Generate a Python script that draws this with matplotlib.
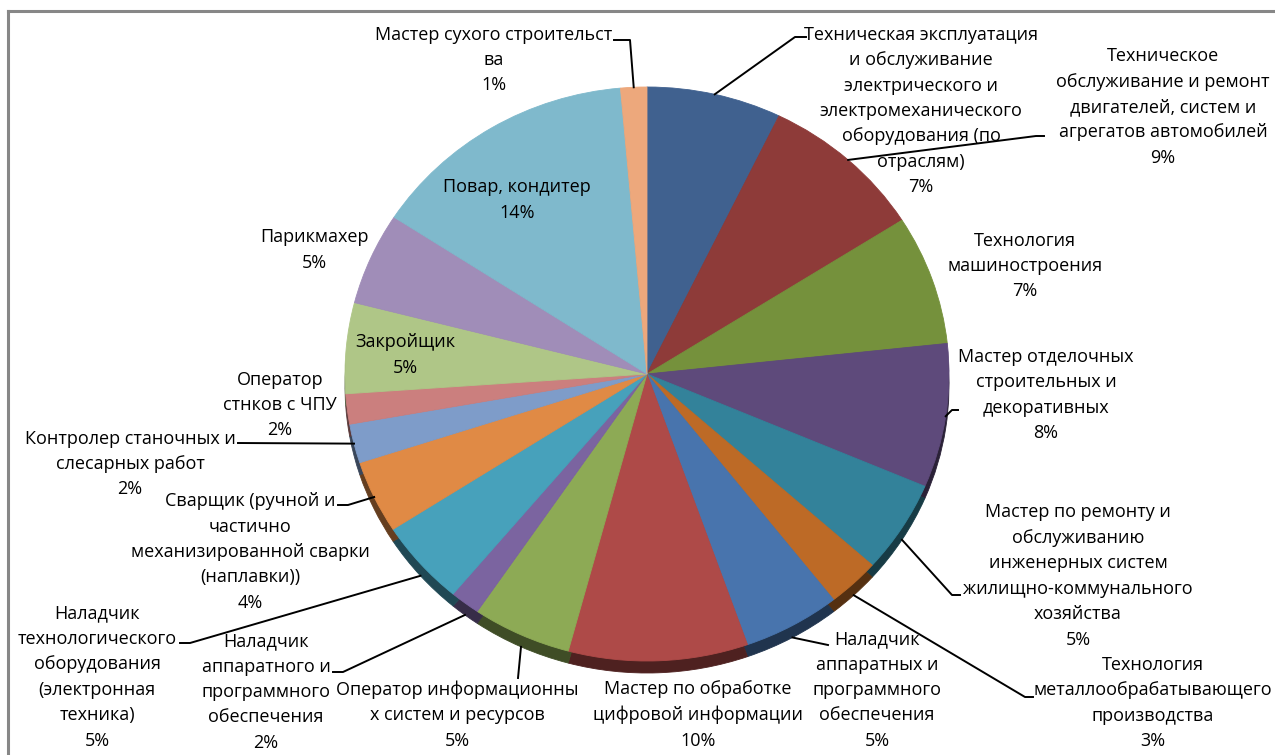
import matplotlib.pyplot as plt
import matplotlib.colors as mcolors
from matplotlib.lines import Line2D
import numpy as np

plt.rcParams['font.family'] = ['Open Sans', 'DejaVu Sans']

# specialties, clockwise from 12 o'clock
names = [
    "Техническая эксплуатация\nи обслуживание\nэлектрического и\nэлектромеханического\nоборудования (по\nотраслям)",
    "Техническое\nобслуживание и ремонт\nдвигателей, систем и\nагрегатов автомобилей",
    "Технология\nмашиностроения",
    "Мастер отделочных\nстроительных и\nдекоративных",
    "Мастер по ремонту и\nобслуживанию\nинженерных систем\nжилищно-коммунального\nхозяйства",
    "Технология\nметаллообрабатывающего\nпроизводства",
    "Наладчик\nаппаратных и\nпрограммного\nобеспечения",
    "Мастер по обработке\nцифровой информации",
    "Оператор информационны\nх систем и ресурсов",
    "Наладчик\nаппаратного и\nпрограммного\nобеспечения",
    "Наладчик\nтехнологического\nоборудования\n(электронная\nтехника)",
    "Сварщик (ручной и\nчастично\nмеханизированной сварки\n(наплавки))",
    "Контролер станочных и\nслесарных работ",
    "Оператор\nстнков с ЧПУ",
    "Закройщик",
    "Парикмахер",
    "Повар, кондитер",
    "Мастер сухого строительст\nва",
]
shares = [7.2, 8.8, 7.3, 8.1, 5.2, 2.8, 5.2, 9.6, 5.3, 1.6,
          4.8, 4.1, 2.2, 1.7, 5.1, 5.2, 14.4, 1.4]
colors = ["#40618F", "#8E3B39", "#75913C", "#5E4A7B", "#33829A", "#BD6A26",
          "#4874AD", "#AE4A48", "#8DAA55", "#7B64A0", "#47A1BB", "#E08A45",
          "#7E9CC9", "#CB7F7E", "#AFC687", "#A08DB8", "#7FB9CC", "#EDA87C"]

W, H = 1275, 755
fig = plt.figure(figsize=(W / 100, H / 100), dpi=100)
ax = fig.add_axes([0, 0, 1, 1])

# pie ellipse in pixels
cx, cy, rx, ry = 647, 374, 302, 287


def px(x, y):
    return (x - cx) / rx, (cy - y) / ry


depth = 12 / ry
dark = [tuple(v * 0.45 for v in mcolors.to_rgb(c)) for c in colors]
rim, _ = ax.pie(shares, colors=dark, startangle=90, counterclock=False,
                center=(0, -depth))
wedges, _ = ax.pie(shares, colors=colors, startangle=90, counterclock=False)
for w in list(rim) + list(wedges):
    w.set_edgecolor(w.get_facecolor())
    w.set_linewidth(0.6)

ax.set_aspect('auto')
ax.set_xlim(px(0, 0)[0], px(W, 0)[0])
ax.set_ylim(px(0, H)[1], px(0, 0)[1])
ax.axis('off')

total = sum(shares)
texts = [f"{n}\n{v / total * 100:.0f}%" for n, v in zip(names, shares)]

# label block centres (pixels)
label_pos = [(921, 111), (1163, 107), (1025, 266), (1046, 395), (1078, 576),
             (1153, 703), (877, 690), (698, 715), (457, 715), (266, 692),
             (97, 677), (250, 552), (130, 464), (280, 405), (405, 355),
             (314, 250), (517, 200), (494, 60)]

# leader lines: slice index -> points after the slice edge (pixels)
leaders = {
    0: [(795, 37), (806, 37)],
    1: [(1036, 136), (1044, 136)],
    3: [(952, 410), (958, 410)],
    4: [(952, 595), (960, 595)],
    5: [(1025, 697), (1033, 697)],
    6: [(828, 645)],
    8: [(518, 678)],
    9: [(343, 672), (333, 672)],
    10: [(190, 643), (180, 643)],
    11: [(348, 505), (338, 505)],
    12: [(238, 443)],
    17: [(630, 40), (614, 40)],
}

for i, (t, (x, y)) in enumerate(zip(texts, label_pos)):
    tx, ty = px(x, y)
    ax.text(tx, ty, t, ha='center', va='center', fontsize=13,
            linespacing=1.53, color='black', zorder=5)

for i, pts in leaders.items():
    w = wedges[i]
    a = np.deg2rad((w.theta1 + w.theta2) / 2)
    sx, sy = np.cos(a), np.sin(a)
    if sy < -0.5:
        sy -= depth
    xs = [sx] + [px(*p)[0] for p in pts]
    ys = [sy] + [px(*p)[1] for p in pts]
    ax.plot(xs, ys, color='black', linewidth=1.4, zorder=4)

# chart area border (top and left visible)
fc = '#878787'
fig.add_artist(Line2D([8 / W, 1], [1 - 11 / H, 1 - 11 / H], color=fc, linewidth=2.2))
fig.add_artist(Line2D([8 / W, 8 / W], [0, 1 - 11 / H], color=fc, linewidth=2.2))

fig.savefig('out.png', dpi=100)
